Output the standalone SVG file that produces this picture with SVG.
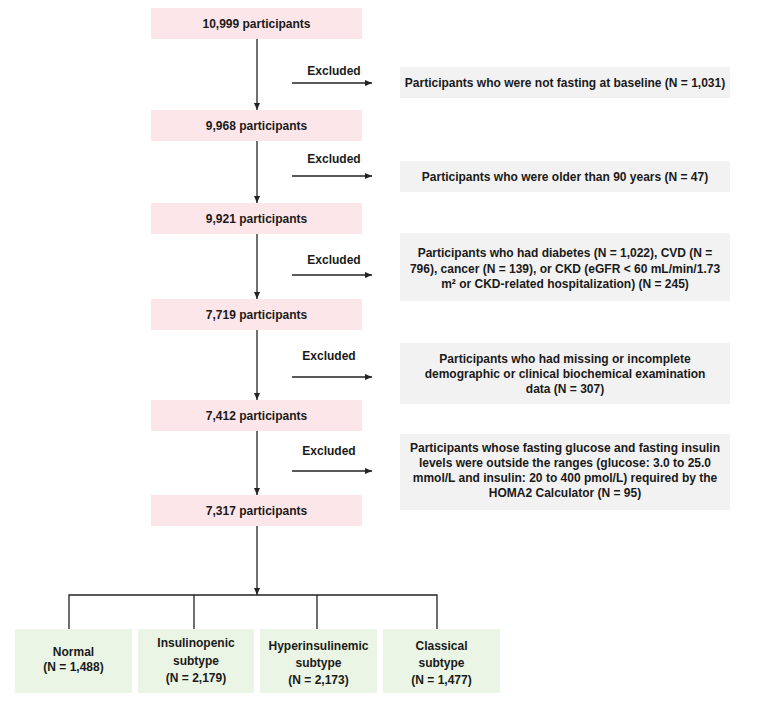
<svg xmlns="http://www.w3.org/2000/svg" width="762" height="721" viewBox="0 0 762 721">
<defs>
<marker id="ah" markerUnits="userSpaceOnUse" markerWidth="8" markerHeight="8" refX="7" refY="3" orient="auto">
<path d="M0,0 L7,3 L0,6 z" fill="#222"/>
</marker>
<style>
.pink{fill:#fde6ea}
.grey{fill:#f2f2f2}
.green{fill:#ebf5e5}
text{font-family:"Liberation Sans",Arial,sans-serif;font-size:12px;font-weight:bold;fill:#1a1a1a;text-anchor:middle}
.ln{stroke:#222;stroke-width:1.3;fill:none}
.ar{stroke:#222;stroke-width:1.3;fill:none;marker-end:url(#ah)}
</style>
</defs>
<rect width="762" height="721" fill="#fff"/>
<g id="connectors">
<line class="ar" x1="257" y1="39" x2="257" y2="110"/>
<line class="ar" x1="257" y1="141" x2="257" y2="203"/>
<line class="ar" x1="257" y1="234" x2="257" y2="299"/>
<line class="ar" x1="257" y1="330" x2="257" y2="400"/>
<line class="ar" x1="257" y1="431" x2="257" y2="495"/>
<line class="ar" x1="257" y1="526" x2="257" y2="595"/>
<line class="ar" x1="292" y1="83" x2="372" y2="83"/>
<line class="ar" x1="292" y1="176" x2="372" y2="176"/>
<line class="ar" x1="292" y1="275" x2="372" y2="275"/>
<line class="ar" x1="292" y1="377" x2="372" y2="377"/>
<line class="ar" x1="292" y1="471" x2="372" y2="471"/>
<polyline class="ln" points="69,629 69,595 437,595 437,629"/>
<line class="ln" x1="194" y1="595" x2="194" y2="629"/>
<line class="ln" x1="317" y1="595" x2="317" y2="629"/>
<text x="334" y="75">Excluded</text>
<text x="334" y="163">Excluded</text>
<text x="334" y="264">Excluded</text>
<text x="329" y="360">Excluded</text>
<text x="329" y="455">Excluded</text>
</g>
<g id="n1"><rect class="pink" x="151" y="8" width="211" height="31"/><text x="256.5" y="28">10,999 participants</text></g>
<g id="n2"><rect class="pink" x="151" y="110" width="211" height="31"/><text x="256.5" y="130">9,968 participants</text></g>
<g id="n3"><rect class="pink" x="151" y="203" width="211" height="31"/><text x="256.5" y="223">9,921 participants</text></g>
<g id="n4"><rect class="pink" x="151" y="299" width="211" height="31"/><text x="256.5" y="319">7,719 participants</text></g>
<g id="n5"><rect class="pink" x="151" y="400" width="211" height="31"/><text x="256.5" y="420">7,412 participants</text></g>
<g id="n6"><rect class="pink" x="151" y="495" width="211" height="31"/><text x="256.5" y="515">7,317 participants</text></g>
<g id="e1"><rect class="grey" x="400" y="67" width="330" height="31"/><text x="565" y="87">Participants who were not fasting at baseline (N = 1,031)</text></g>
<g id="e2"><rect class="grey" x="400" y="161" width="330" height="31"/><text x="565" y="181">Participants who were older than 90 years (N = 47)</text></g>
<g id="e3"><rect class="grey" x="400" y="233" width="330" height="68"/>
<text x="565" y="257">Participants who had diabetes (N = 1,022), CVD (N =</text>
<text x="565" y="272.5">796), cancer (N = 139), or CKD (eGFR &lt; 60 mL/min/1.73</text>
<text x="565" y="288">m² or CKD-related hospitalization) (N = 245)</text></g>
<g id="e4"><rect class="grey" x="400" y="343" width="330" height="61"/>
<text x="565" y="363">Participants who had missing or incomplete</text>
<text x="565" y="378">demographic or clinical biochemical examination</text>
<text x="565" y="393">data (N = 307)</text></g>
<g id="e5"><rect class="grey" x="400" y="434" width="330" height="76"/>
<text x="565" y="452">Participants whose fasting glucose and fasting insulin</text>
<text x="565" y="467">levels were outside the ranges (glucose: 3.0 to 25.0</text>
<text x="565" y="482">mmol/L and insulin: 20 to 400 pmol/L) required by the</text>
<text x="565" y="497">HOMA2 Calculator (N = 95)</text></g>
<g id="g1"><rect class="green" x="15" y="629" width="117" height="64"/>
<text x="73.5" y="655.5">Normal</text><text x="73.5" y="671">(N = 1,488)</text></g>
<g id="g2"><rect class="green" x="138" y="629" width="116" height="64"/>
<text x="196" y="647">Insulinopenic</text><text x="196" y="664.5">subtype</text><text x="196" y="682">(N = 2,179)</text></g>
<g id="g3"><rect class="green" x="260" y="629" width="117" height="64"/>
<text x="318.5" y="650">Hyperinsulinemic</text><text x="318.5" y="667">subtype</text><text x="318.5" y="684">(N = 2,173)</text></g>
<g id="g4"><rect class="green" x="383" y="629" width="117" height="64"/>
<text x="441.5" y="650">Classical</text><text x="441.5" y="667">subtype</text><text x="441.5" y="684">(N = 1,477)</text></g>
</svg>
